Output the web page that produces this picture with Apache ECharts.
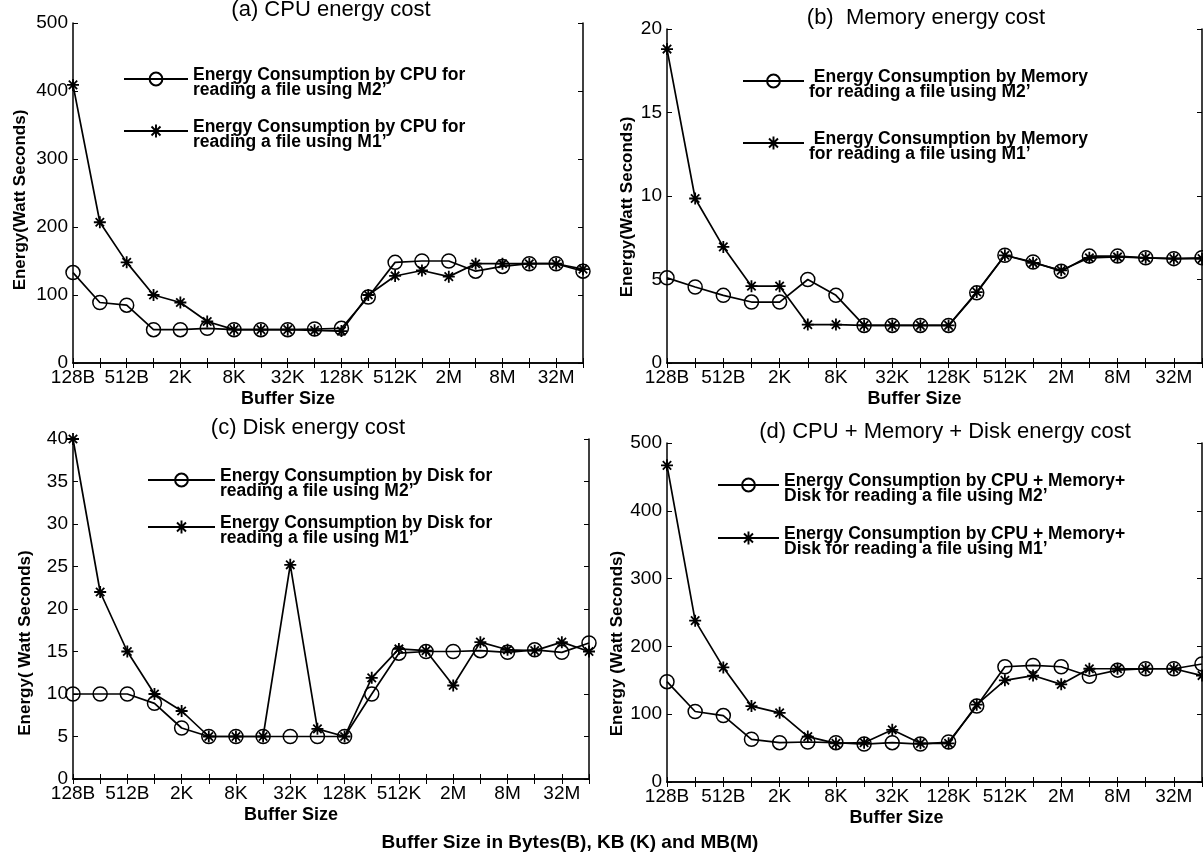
<!DOCTYPE html>
<html>
<head>
<meta charset="utf-8">
<script src="https://cdn.jsdelivr.net/npm/echarts@6/dist/echarts.min.js"></script>
<style>
html,body{margin:0;padding:0;background:#fff;}
#chart{width:1203px;height:860px;}
</style>
</head>
<body>
<div id="chart"></div>
<script>
// ---- data ----
const categories = ['128B','256B','512B','1K','2K','4K','8K','16K','32K','64K','128K','256K','512K','1M','2M','4M','8M','16M','32M','64M'];

const cpuM2 = [133, 89, 85, 49, 49, 51, 49, 49, 49, 50, 51, 97, 148, 150, 150, 135, 142, 146, 146, 135];
const cpuM1 = [409, 207, 148, 100, 89, 61, 49, 49, 49, 48, 47, 100, 128, 136, 127, 146, 146, 146, 146, 138];

const memM2 = [5.1, 4.55, 4.05, 3.65, 3.65, 5.0, 4.05, 2.25, 2.25, 2.25, 2.25, 4.2, 6.45, 6.05, 5.5, 6.4, 6.4, 6.3, 6.25, 6.3];
const memM1 = [18.8, 9.85, 6.95, 4.6, 4.6, 2.3, 2.3, 2.25, 2.25, 2.25, 2.25, 4.25, 6.45, 6.0, 5.55, 6.3, 6.35, 6.3, 6.25, 6.25];

const diskM2 = [10, 10, 10, 8.9, 6, 5, 5, 5, 5, 5, 5, 10, 14.8, 15, 15, 15.1, 14.9, 15.2, 14.9, 16];
const diskM1 = [40, 22, 15, 10, 8, 5, 5, 5, 25.2, 5.9, 5, 11.9, 15.3, 15.1, 11, 16.1, 15.2, 15.1, 16.1, 15];

const totalM2 = [148, 104, 98, 63, 58, 59, 58, 56, 58, 56, 59, 112, 170, 172, 170, 156, 165, 167, 167, 174];
const totalM1 = [467, 238, 169, 112, 102, 67, 57, 58, 77, 57, 57, 114, 150, 157, 144, 167, 167, 167, 167, 157];

const panelTitles = ['(a) CPU energy cost', '(b)  Memory energy cost', '(c) Disk energy cost', '(d) CPU + Memory + Disk energy cost'];
const yNames = ['Energy(Watt Seconds)', 'Energy(Watt Seconds)', 'Energy( Watt Seconds)', 'Energy (Watt Seconds)'];
const yMax = [500, 20, 40, 500];
const yInterval = [100, 5, 5, 100];
const nameM2 = [
  'Energy Consumption by CPU for\nreading a file using M2\u2019',
  ' Energy Consumption by Memory\nfor reading a file using M2\u2019',
  'Energy Consumption by Disk for\nreading a file using M2\u2019',
  'Energy Consumption by CPU + Memory+\nDisk for reading a file using M2\u2019'
];
const nameM1 = [
  'Energy Consumption by CPU for\nreading a file using M1\u2019',
  ' Energy Consumption by Memory\nfor reading a file using M1\u2019',
  'Energy Consumption by Disk for\nreading a file using M1\u2019',
  'Energy Consumption by CPU + Memory+\nDisk for reading a file using M1\u2019'
];
const dataM2 = [cpuM2, memM2, diskM2, totalM2];
const dataM1 = [cpuM1, memM1, diskM1, totalM1];
const caption = 'Buffer Size in Bytes(B), KB (K) and MB(M)';

// ---- layout ----
const FONT = "'Liberation Sans', Arial, Helvetica, sans-serif";
const grids = [
  {left: 73, top: 23, width: 510, height: 340},
  {left: 667, top: 29, width: 535, height: 334},
  {left: 73, top: 439, width: 516, height: 340},
  {left: 667, top: 443, width: 535, height: 339}
];
const xNamePad = [80, 40, 80, 76];
const yNameGap = [44, 31, 39, 41];
const yNamePad = [14, 22, 68, 62];
const titlePos = [[331, 10], [926, 18], [308, 428], [945, 432]];
const legendPos = [
  {left: 123, w: 64, iconY: [81, 133]},
  {left: 742, w: 61, iconY: [83, 145]},
  {left: 147, w: 67, iconY: [482, 529]},
  {left: 717, w: 61, iconY: [487, 540]}
];
const LEG_H = 16, LEG_LH = 15, LEG_PAD = 8;

const STAR = 'path://M-1.5,-10L1.5,-10L1.5,10L-1.5,10Z M-10,-1.5L10,-1.5L10,1.5L-10,1.5Z M-5.94,-8.06L8.06,5.94L5.94,8.06L-8.06,-5.94Z M8.06,-5.94L-5.94,8.06L-8.06,5.94L5.94,-8.06Z';

const xAxes = [], yAxes = [], series = [], legends = [], graphics = [];

function legendFormatter(name) {
  return '{s| }\n' + name.split('\n').map(l => '{t|' + l + '}').join('\n');
}

for (let i = 0; i < 4; i++) {
  xAxes.push({
    type: 'category', gridIndex: i, data: categories, boundaryGap: false, position: 'bottom',
    axisLine: {lineStyle: {color: '#000', width: 1.5}},
    axisTick: {inside: true, length: 5, interval: 0, lineStyle: {color: '#000', width: 1}},
    axisLabel: {interval: 1, color: '#000', fontSize: 19, fontFamily: FONT, margin: 5},
    splitLine: {show: false},
    name: 'Buffer Size', nameLocation: 'middle', nameGap: 27,
    nameTextStyle: {fontWeight: 'bold', fontSize: 18, fontFamily: FONT, color: '#000', padding: [0, xNamePad[i], 0, 0]}
  });
  xAxes.push({
    type: 'category', gridIndex: i, data: categories, boundaryGap: false, position: 'top',
    axisLine: {lineStyle: {color: '#000', width: 1.5}},
    axisTick: {inside: true, length: 5, interval: 0, lineStyle: {color: '#000', width: 1}},
    axisLabel: {show: false}, splitLine: {show: false}
  });
  yAxes.push({
    type: 'value', gridIndex: i, min: 0, max: yMax[i], interval: yInterval[i], position: 'left',
    axisLine: {show: true, lineStyle: {color: '#000', width: 1.5}},
    axisTick: {show: true, inside: true, length: 5, lineStyle: {color: '#000', width: 1}},
    axisLabel: {color: '#000', fontSize: 19, fontFamily: FONT, margin: 5},
    splitLine: {show: false},
    name: yNames[i], nameLocation: 'middle', nameGap: yNameGap[i],
    nameTextStyle: {fontWeight: 'bold', fontSize: 17, fontFamily: FONT, color: '#000', padding: [0, yNamePad[i], 0, 0]}
  });
  yAxes.push({
    type: 'value', gridIndex: i, min: 0, max: yMax[i], interval: yInterval[i], position: 'right',
    axisLine: {show: true, lineStyle: {color: '#000', width: 1.5}},
    axisTick: {show: true, inside: true, length: 5, lineStyle: {color: '#000', width: 1}},
    axisLabel: {show: false}, splitLine: {show: false}
  });
  series.push({
    type: 'line', name: nameM2[i], data: dataM2[i], xAxisIndex: 2 * i, yAxisIndex: 2 * i,
    symbol: 'circle', symbolSize: 14, showAllSymbol: true, clip: false,
    lineStyle: {color: '#000', width: 1.7},
    itemStyle: {color: 'rgba(255,255,255,0)', borderColor: '#000', borderWidth: 1.5},
    emphasis: {disabled: true}
  });
  series.push({
    type: 'line', name: nameM1[i], data: dataM1[i], xAxisIndex: 2 * i, yAxisIndex: 2 * i,
    symbol: STAR, symbolSize: 12, showAllSymbol: true, clip: false,
    lineStyle: {color: '#000', width: 1.7},
    itemStyle: {color: '#000'},
    emphasis: {disabled: true}
  });
  const lp = legendPos[i];
  const boxH = LEG_PAD + 2 * LEG_LH;
  [nameM2[i], nameM1[i]].forEach((nm, k) => {
    legends.push({
      data: [nm], left: lp.left, top: lp.iconY[k] - boxH / 2, padding: 0,
      itemWidth: lp.w, itemHeight: LEG_H,
      selectedMode: false,
      formatter: legendFormatter,
      textStyle: {
        color: '#000', fontFamily: FONT,
        rich: {
          s: {fontSize: 4, lineHeight: LEG_PAD, fontFamily: FONT},
          t: {fontSize: 17.5, fontWeight: 'bold', fontFamily: FONT, color: '#000', lineHeight: LEG_LH}
        }
      }
    });
  });
  graphics.push({
    type: 'text', x: titlePos[i][0], y: titlePos[i][1],
    style: {text: panelTitles[i], fontSize: 22, fontFamily: FONT, fill: '#000',
      align: 'center', verticalAlign: 'middle', textAlign: 'center', textVerticalAlign: 'middle'}
  });
}
graphics.push({
  type: 'text', x: 570, y: 843,
  style: {text: caption, fontSize: 19, fontWeight: 'bold', fontFamily: FONT, fill: '#000',
    align: 'center', verticalAlign: 'middle', textAlign: 'center', textVerticalAlign: 'middle'}
});

const chart = echarts.init(document.getElementById('chart'), null, {renderer: 'canvas'});
chart.setOption({
  animation: false,
  backgroundColor: '#fff',
  grid: grids,
  xAxis: xAxes,
  yAxis: yAxes,
  legend: legends,
  series: series,
  graphic: graphics
});
</script>
</body>
</html>
